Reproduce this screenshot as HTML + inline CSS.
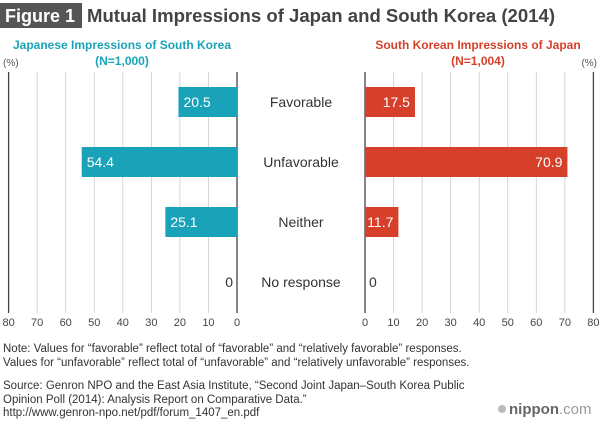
<!DOCTYPE html>
<html><head><meta charset="utf-8"><style>
body{margin:0;width:600px;height:420px;background:#fff;font-family:"Liberation Sans",sans-serif;overflow:hidden}
</style></head><body>
<svg width="600" height="420" xmlns="http://www.w3.org/2000/svg" font-family="Liberation Sans, sans-serif">
<rect x="0" y="3" width="82" height="25" fill="#555"/>
<text x="5" y="22" font-size="18" font-weight="bold" fill="#fff">Figure 1</text>
<text x="87" y="22" font-size="18.5" font-weight="bold" fill="#444" textLength="468" lengthAdjust="spacingAndGlyphs">Mutual Impressions of Japan and South Korea (2014)</text>
<text x="122" y="49" font-size="12" font-weight="bold" fill="#1aa3b8" text-anchor="middle">Japanese Impressions of South Korea</text>
<text x="122" y="65" font-size="12" font-weight="bold" fill="#1aa3b8" text-anchor="middle">(N=1,000)</text>
<text x="478" y="49" font-size="12" font-weight="bold" fill="#d6402a" text-anchor="middle">South Korean Impressions of Japan</text>
<text x="478" y="65" font-size="12" font-weight="bold" fill="#d6402a" text-anchor="middle">(N=1,004)</text>
<text x="3" y="66" font-size="10" fill="#555">(%)</text>
<text x="597" y="66" font-size="10" fill="#555" text-anchor="end">(%)</text>
<g id="g"></g>
<g font-size="11.5" fill="#333">
<text x="3" y="352">Note: Values for “favorable” reflect total of “favorable” and “relatively favorable” responses.</text>
<text x="3" y="366">Values for “unfavorable” reflect total of “unfavorable” and “relatively unfavorable” responses.</text>
<text x="3" y="389">Source: Genron NPO and the East Asia Institute, “Second Joint Japan–South Korea Public</text>
<text x="3" y="403">Opinion Poll (2014): Analysis Report on Comparative Data.”</text>
<text x="3" y="416">http://www.genron-npo.net/pdf/forum_1407_en.pdf</text>
</g>
<circle cx="502" cy="409" r="4" fill="#bbb"/>
<text x="509" y="414" font-size="15" font-weight="bold" fill="#666">nippon<tspan font-weight="normal" fill="#999">.com</tspan></text>
</svg>
<script>
const categories=["Favorable","Unfavorable","Neither","No response"];
const japanValues=[20.5,54.4,25.1,0];
const koreaValues=[17.5,70.9,11.7,0];
const ticks=[0,10,20,30,40,50,60,70,80];
const NS="http://www.w3.org/2000/svg";
const g=document.getElementById('g');
const L0=237,R0=365,S=28.55/10,TOP=72,BOT=313;
const xl=v=>L0-v*S, xr=v=>R0+v*S;
const yc=i=>102+i*60;
function el(t,a,txt){const e=document.createElementNS(NS,t);for(const k in a)e.setAttribute(k,a[k]);if(txt!=null)e.textContent=txt;g.appendChild(e);return e;}
ticks.forEach(t=>{
 const w=t===0||t===80?1.3:0.8,c=t===0||t===80?"#444":"#ccc";
 let e=el('line',{x1:xl(t),x2:xl(t),y1:TOP,y2:BOT,stroke:c,'stroke-width':w});
 
 e=el('line',{x1:xr(t),x2:xr(t),y1:TOP,y2:BOT,stroke:c,'stroke-width':w});
 
 e=el('text',{x:xl(t),y:326,'font-size':11,fill:'#444','text-anchor':'middle'},t);
 
 e=el('text',{x:xr(t),y:326,'font-size':11,fill:'#444','text-anchor':'middle'},t);
 
});
categories.forEach((c,i)=>{
 const y=yc(i);
 let e=el('text',{x:301,y:y+5,'font-size':14,fill:'#333','text-anchor':'middle'},c);
 
 const jv=japanValues[i],kv=koreaValues[i];
 if(jv>0){e=el('rect',{x:xl(jv),y:y-15,width:jv*S,height:30,fill:'#1aa3b8'});
  
  e=el('text',{x:xl(jv)+5,y:y+5,'font-size':14,fill:'#fff'},jv);}
 else e=el('text',{x:L0-4,y:y+5,'font-size':14,fill:'#333','text-anchor':'end'},jv);
 
 if(kv>0){e=el('rect',{x:R0,y:y-15,width:kv*S,height:30,fill:'#d6402a'});
  
  e=el('text',{x:xr(kv)-5,y:y+5,'font-size':14,fill:'#fff','text-anchor':'end'},kv);}
 else e=el('text',{x:R0+4,y:y+5,'font-size':14,fill:'#333'},kv);
 
});
</script>
</body></html>
